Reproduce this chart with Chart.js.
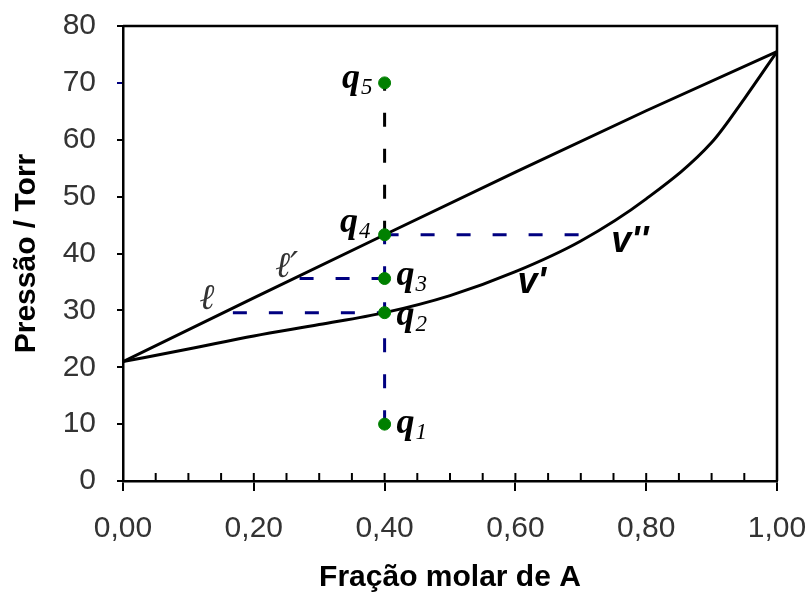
<!DOCTYPE html>
<html>
<head>
<meta charset="utf-8">
<script src="https://cdn.jsdelivr.net/npm/chart.js@4.4.1/dist/chart.umd.min.js"></script>
<style>
  body { margin: 0; background: #fff; }
</style>
</head>
<body>
<canvas id="grafico" width="810" height="597"></canvas>
<script>
// curva do liquido (quase reta) e curva do vapor
const xLiquido = [0, 0.2, 0.4, 0.6, 0.8, 1];
const pLiquido = [21, 32.2, 43.3, 54.3, 65.1, 75.5];

const xVapor = [0, 0.1, 0.2, 0.3, 0.4, 0.5, 0.6, 0.7, 0.8, 0.9, 0.95, 1];
const pVapor = [21, 23.2, 25.5, 27.5, 29.6, 32.6, 36.8, 42.2, 49.6, 59.5, 67.2, 75.5];

// pontos q1..q5 (isopleta em x = 0,40)
const nomesQ = ['1', '2', '3', '4', '5'];
const xQ = [0.4, 0.4, 0.4, 0.4, 0.4];
const pQ = [10, 29.6, 35.6, 43.3, 70];

// linhas de amarracao horizontais
const amarraInicio = [0.168, 0.27, 0.4];
const amarraFim = [0.4, 0.4, 0.72];
const amarraP = [29.6, 35.6, 43.3];

const azul = '#000080';
const verde = '#008000';

const tracejado = [14, 22];

const datasets = [];

datasets.push({
  type: 'scatter',
  label: 'pontos',
  data: xQ.map((x, i) => ({x: x, y: pQ[i]})),
  pointRadius: 6,
  pointBackgroundColor: verde,
  pointBorderColor: verde,
  pointBorderWidth: 1
});

datasets.push({
  type: 'line',
  label: 'liquido',
  data: xLiquido.map((x, i) => ({x: x, y: pLiquido[i]})),
  borderColor: '#000',
  borderWidth: 3,
  pointRadius: 0,
  fill: false
});

datasets.push({
  type: 'line',
  label: 'vapor',
  data: xVapor.map((x, i) => ({x: x, y: pVapor[i]})),
  borderColor: '#000',
  borderWidth: 3,
  pointRadius: 0,
  cubicInterpolationMode: 'monotone',
  fill: false
});

amarraP.forEach((p, i) => {
  datasets.push({
    type: 'line',
    label: 'amarra' + i,
    data: [{x: amarraInicio[i], y: p}, {x: amarraFim[i], y: p}],
    borderColor: azul,
    borderWidth: 3,
    borderDash: tracejado,
    pointRadius: 0,
    fill: false
  });
});

// isopleta: azul de q1 ate q4, preta de q4 ate q5
datasets.push({
  type: 'line',
  label: 'isopleta1',
  data: [{x: xQ[0], y: pQ[0]}, {x: xQ[3], y: pQ[3]}],
  borderColor: azul,
  borderWidth: 3,
  borderDash: tracejado,
  pointRadius: 0
});
datasets.push({
  type: 'line',
  label: 'isopleta2',
  data: [{x: xQ[3], y: pQ[3]}, {x: xQ[4], y: pQ[4]}],
  borderColor: '#000',
  borderWidth: 3,
  borderDash: tracejado,
  pointRadius: 0
});

// moldura (topo e direita) + tracinhos para dentro no eixo x
const moldura = {
  id: 'moldura',
  afterDraw(chart) {
    const {ctx, chartArea: a, scales} = chart;
    ctx.save();
    ctx.strokeStyle = '#000';
    ctx.lineWidth = 2.5;
    ctx.beginPath();
    ctx.moveTo(a.left, a.top);
    ctx.lineTo(a.right, a.top);
    ctx.lineTo(a.right, a.bottom);
    ctx.stroke();
    ctx.lineWidth = 2;
    for (let k = 0; k <= 20; k++) {
      const px = scales.x.getPixelForValue(k * 0.05);
      ctx.beginPath();
      ctx.moveTo(px, a.bottom);
      ctx.lineTo(px, a.bottom - 8);
      ctx.stroke();
    }
    ctx.restore();
  }
};

// rotulos q, l, v
const rotulos = {
  id: 'rotulos',
  afterDatasetsDraw(chart) {
    const {ctx, scales} = chart;
    const sx = scales.x, sy = scales.y;
    ctx.save();
    ctx.fillStyle = '#000';
    ctx.textBaseline = 'alphabetic';
    const fQ = 'italic bold 36px "Liberation Serif", serif';
    const fS = 'italic 23px "Liberation Serif", serif';
    // [lado, dx, dy]
    const desl = [[1, 12, 5], [1, 12, 8], [1, 12, 2], [-1, -14, -7], [-1, -12, 1]];
    nomesQ.forEach((n, i) => {
      const px = sx.getPixelForValue(xQ[i]) + desl[i][1];
      const py = sy.getPixelForValue(pQ[i]) + desl[i][2] + 4;
      ctx.font = fQ;
      const wq = ctx.measureText('q').width;
      ctx.font = fS;
      const ws = ctx.measureText(n).width;
      let x0 = desl[i][0] > 0 ? px : px - wq - ws - 1;
      ctx.font = fQ;
      ctx.fillText('q', x0, py);
      ctx.font = fS;
      ctx.fillText(n, x0 + wq + 1, py + 6);
    });

    ctx.textAlign = 'center';
    ctx.textBaseline = 'middle';
    ctx.fillStyle = '#333';
    ctx.font = 'italic 36px "DejaVu Serif", serif';
    ctx.fillText('\u2113', sx.getPixelForValue(amarraInicio[0]) - 26, sy.getPixelForValue(amarraP[0]) - 13);
    ctx.fillText('\u2113\u2032', sx.getPixelForValue(amarraInicio[1]) - 13, sy.getPixelForValue(amarraP[1]) - 11);

    ctx.fillStyle = '#000';
    ctx.font = 'italic bold 36px "Liberation Sans", sans-serif';
    ctx.fillText("v'", sx.getPixelForValue(0.561) + 42, sy.getPixelForValue(35.3) + 3);
    ctx.fillText("v''", sx.getPixelForValue(amarraFim[2]) + 36, sy.getPixelForValue(amarraP[2]) + 7);
    ctx.restore();
  }
};

new Chart(document.getElementById('grafico'), {
  type: 'line',
  data: { datasets: datasets },
  options: {
    responsive: false,
    animation: false,
    layout: { padding: { top: 26, right: 33, left: 0, bottom: 0 } },
    plugins: {
      legend: { display: false },
      tooltip: { enabled: false }
    },
    scales: {
      x: {
        type: 'linear',
        min: 0,
        max: 1,
        afterFit(s) { s.height = 116; s.paddingLeft = 0; s.paddingRight = 0; },
        border: { color: '#000', width: 2.5 },
        grid: { drawOnChartArea: false, color: '#000', lineWidth: 2, tickLength: 10 },
        ticks: {
          stepSize: 0.2,
          color: '#333',
          padding: 20,
          font: { family: '"Liberation Sans", Arial, sans-serif', size: 30 },
          callback: v => v.toFixed(2).replace('.', ',')
        },
        title: {
          display: true,
          text: 'Fração molar de A',
          color: '#000',
          padding: { top: 0, bottom: 1 },
          font: { family: '"Liberation Sans", Arial, sans-serif', size: 30, weight: 'bold' }
        }
      },
      y: {
        type: 'linear',
        min: 0,
        max: 80,
        afterFit(s) { s.width = 123; s.paddingTop = 0; s.paddingBottom = 0; },
        border: { color: '#000', width: 2.5 },
        grid: {
          drawOnChartArea: false,
          lineWidth: 2,
          tickLength: 6,
          color: c => (c.tick && c.tick.value === 70 ? azul : '#000')
        },
        ticks: {
          stepSize: 10,
          color: '#333',
          padding: 21,
          font: { family: '"Liberation Sans", Arial, sans-serif', size: 30 }
        },
        title: {
          display: true,
          text: 'Pressão / Torr',
          color: '#000',
          padding: { top: 9, bottom: 0 },
          font: { family: '"Liberation Sans", Arial, sans-serif', size: 30, weight: 'bold' }
        }
      }
    }
  },
  plugins: [moldura, rotulos]
});
</script>
</body>
</html>
